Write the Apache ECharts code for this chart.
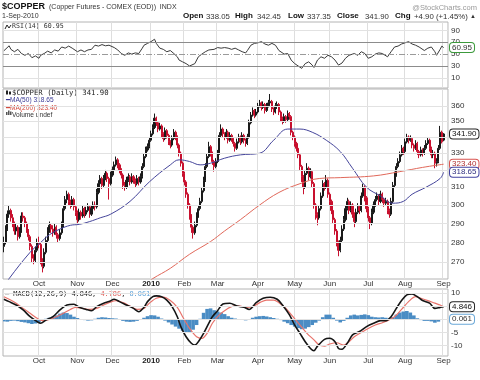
<!DOCTYPE html>
<html><head><meta charset="utf-8">
<script src="https://cdn.jsdelivr.net/npm/echarts@6/dist/echarts.min.js"></script>
<style>html,body{margin:0;padding:0;background:#fff}#c{width:480px;height:380px}</style>
</head><body><div id="c"></div>
<script>
// ---------- calendar ----------
const holidays = ['2009-09-07','2009-11-26','2009-12-25','2010-01-01','2010-01-18','2010-02-15','2010-04-02','2010-05-31','2010-07-05'];
const firstDay = '2009-09-02', lastDay = '2010-09-03';
const monthLabels = ['2010','Feb','Mar','Apr','May','Jun','Jul','Aug','Sep','Oct','Nov','Dec'];

// ---------- daily OHLC ----------
const opens = [278,280,287,295,297,293,290,286,288,283,286,294,293,290,286,283,278,272,271,276,
280,279,271,268,275,281,286,289,287,285,288,284,282,285,289,298,303,306,302,300,
303,299,296,292,296,294,298,295,297,299,295,298,300,299,307,312,315,311,315,318,
315,312,317,320,323,326,323,320,317,311,310,314,316,313,316,314,312,315,313,316,
322,328,332,334,338,342,346,352,349,345,347,342,339,344,341,337,335,339,343,340,
335,330,324,318,313,306,300,294,288,285,289,294,298,302,308,314,322,328,334,330,
325,322,325,330,341,345,342,340,343,338,341,339,336,333,337,340,337,341,338,336,
340,349,354,357,354,356,360,362,359,361,357,360,362,363,358,356,360,361,356,352,
350,353,351,355,353,343,340,336,333,329,322,316,310,318,321,316,319,312,300,295,
293,298,305,312,310,314,306,302,297,292,286,280,276,281,287,292,298,302,297,300,
295,291,296,299,297,305,310,304,298,293,290,296,300,303,305,302,306,303,301,302,
297,295,302,311,317,322,325,329,333,331,337,340,338,339,335,333,336,331,329,332,
330,333,336,338,333,329,330,324,325,333,343,338.05];
const closes = [280,287,295,297,293,290,286,288,283,286,294,293,290,286,283,278,272,271,276,280,
279,271,268,275,281,286,289,287,285,288,284,282,285,289,298,303,306,302,300,303,
299,296,292,296,294,298,295,297,299,295,298,300,299,307,312,315,311,315,318,315,
312,317,320,323,326,323,320,317,311,310,314,316,313,316,314,312,315,313,316,322,
328,332,334,338,342,346,352,349,345,347,342,339,344,341,337,335,339,343,340,335,
330,324,318,313,306,300,294,288,285,289,294,298,302,308,314,322,328,334,330,325,
322,325,330,341,345,342,340,343,338,341,339,336,333,337,340,337,341,338,336,340,
349,354,357,354,356,360,362,359,361,357,360,362,363,358,356,360,361,356,352,350,
353,351,355,353,343,340,336,333,329,322,316,310,318,321,316,319,312,300,295,293,
298,305,312,310,314,306,302,297,292,286,280,276,281,287,292,298,302,297,300,295,
291,296,299,297,305,310,304,298,293,290,296,300,303,305,302,306,303,301,302,297,
295,302,311,317,322,325,329,333,331,337,340,338,339,335,333,336,331,329,332,330,
333,336,338,333,329,330,324,325,333,343,337,341.9];
const lows = [275,279,286,293,291,288,284,284,281,282,285,291,288,285,281,276,270,269,270,275,
277,269,265,267,274,280,285,285,283,284,282,280,281,284,288,297,301,300,298,299,
297,294,290,291,292,293,293,294,296,293,294,297,297,298,306,311,309,310,314,313,
303,311,316,319,322,321,318,315,309,308,309,313,311,312,312,310,311,311,312,315,
321,327,331,333,337,341,345,347,343,344,340,337,338,339,335,333,334,338,338,333,
328,322,316,311,304,298,292,285,282,284,288,293,297,301,307,313,321,327,328,323,
319,321,324,329,340,340,338,339,336,337,337,334,331,332,336,335,336,336,334,335,
339,348,353,352,353,355,359,357,358,355,356,359,360,356,354,355,358,354,350,348,
349,349,350,351,341,338,334,331,327,320,313,306,309,317,314,315,310,298,292,289,
292,297,304,308,309,304,300,295,290,284,278,273,275,280,286,291,297,295,296,293,
288,290,295,295,296,304,302,296,291,287,289,295,299,302,300,301,301,299,300,295,
293,294,301,310,316,321,324,328,329,330,336,336,337,333,331,332,329,327,328,328,
329,332,335,331,327,327,321,322,324,332,336,337.35];
const highs = [283,289,297,300,298,295,291,290,289,288,296,296,294,291,287,284,279,274,278,282,
283,280,272,277,283,288,291,290,289,290,289,285,287,291,300,305,308,307,303,305,
304,300,297,298,297,300,299,299,301,300,300,302,302,309,314,317,316,317,320,319,
316,319,322,325,328,327,324,321,318,313,316,318,317,318,317,315,317,316,318,324,
330,334,336,340,344,348,355,353,350,349,348,343,346,345,342,338,341,345,344,341,
336,331,325,319,314,307,301,295,289,291,296,300,304,310,316,324,330,337,335,331,
326,327,332,343,348,346,343,345,344,343,342,340,337,339,342,341,343,342,339,342,
351,356,359,358,358,362,364,363,363,362,362,364,368,364,359,362,363,362,357,353,
355,354,357,356,354,344,341,337,334,330,323,317,320,324,322,321,320,313,301,296,
300,307,314,313,317,315,307,303,298,293,287,281,283,289,294,300,304,303,302,301,
296,298,301,300,307,312,311,305,299,294,298,302,305,307,306,308,307,304,304,303,
298,304,313,319,324,327,331,335,334,339,342,341,341,340,336,338,337,332,334,333,
335,338,340,339,334,332,331,327,335,347,344,342.45];

// ---------- overlays: [trading-day index, value] ----------
const ma50Points = [[0,258],[3,262],[15,275],[21,280],[26,284],[32,287],[38,289],[43,289.5],[49,291],[55,293],[61,295],[72,302],[83,313],[95,323],[100,326],[106,325],[112,323],[118,324],[126,327],[135,329],[146,330],[154,338],[162,345],[169,345],[176,343],[184,338],[192,331],[199,321],[207,310],[215,305],[222,301],[228,302],[233,306],[241,310],[249,315],[251,318.65]];
const ma200Points = [[82,260],[85,262],[95,267],[106,274],[118,280.5],[126,286],[135,292],[146,300],[157,307],[169,312],[180,315],[192,315.5],[211,316.5],[226,319],[239,321.5],[251,323.4]];
const rsiPoints = [[0,55.6],[3,64],[4,58],[6,54],[8,58],[10,51],[12,48],[14,51],[16,44],[18,47],[20,43],[21,48],[23,51],[25,55],[27,52],[29,57],[31,55],[33,62],[35,60],[37,63.5],[39,60],[40,57],[42,54],[44,57],[46,54],[48,57],[50,58],[52,65],[54,63.5],[56,66],[58,64],[60,65],[61,66],[63,61],[65,57],[67,51],[69,48],[71,52],[73,50],[75,52],[77,51],[79,60],[80,65],[82,68],[84,71],[86,75],[87,68],[89,60],[91,58],[93,54],[95,56],[97,51],[99,45.5],[100,40],[102,37],[104,34],[106,30],[107,27.5],[109,34],[111,45.5],[113,50],[115,54],[117,57],[118,54],[120,58],[122,61],[124,60],[126,61],[128,60],[130,58],[132,60],[134,57],[136,54],[138,52],[139,56],[141,65],[143,68],[145,69],[147,71],[149,67],[151,65],[153,68],[155,65],[157,56],[158,54],[160,50],[162,51],[164,40],[166,34],[168,30],[170,26],[172,34],[174,37],[176,31.5],[177,27.5],[179,40],[181,45.5],[183,43],[185,48],[187,45.5],[189,40],[191,31.5],[193,35],[195,43],[197,48],[198,45.5],[200,51],[202,48],[204,54],[206,51],[208,43],[210,45.5],[212,50],[214,52],[216,51],[217,50],[219,45.5],[221,54],[223,62],[225,63.5],[227,67],[229,69],[231,71],[233,67],[235,65],[237,62],[238,60],[240,56],[242,60],[244,62],[246,54],[247,48],[249,58],[250,63.5],[251,60.95]];
const macdPoints = [[0,7.7],[3,6.8],[7,5.5],[11,3.6],[15,1.0],[19,-0.9],[21,-1.5],[24,-0.3],[28,1.0],[32,3.6],[36,5.5],[40,5.8],[43,4.6],[47,3.8],[50,3.3],[53,4.9],[57,6.2],[60,6.8],[63,7.7],[66,6.8],[70,5.5],[74,4.2],[77,2.9],[80,4.6],[82,6.8],[85,8.7],[87,9.0],[90,8.7],[93,7.4],[96,4.9],[99,1.0],[101,-2.8],[104,-6.7],[107,-9.2],[109,-9.9],[111,-8.6],[114,-5.4],[117,-1.5],[119,1.0],[122,3.3],[125,5.9],[129,6.2],[133,5.1],[137,4.6],[140,3.8],[144,6.4],[148,8.1],[152,8.5],[156,7.7],[159,5.5],[163,1.7],[166,-2.2],[169,-5.4],[172,-8.6],[175,-11.2],[177,-12.1],[179,-10.3],[183,-7.7],[186,-7.3],[189,-8.6],[191,-11.2],[193,-11.5],[196,-9.2],[199,-6.0],[203,-4.7],[207,-2.8],[211,-1.5],[215,-0.5],[218,-0.5],[221,1.0],[224,4.2],[227,7.2],[230,9.4],[233,9.7],[236,8.7],[239,7.2],[243,6.2],[246,4.2],[249,4.6],[251,4.846]];
const signalPoints = [[0,8.7],[3,7.7],[7,6.2],[11,4.2],[15,2.3],[19,0.4],[22,-0.5],[26,0],[30,1.0],[34,2.3],[38,3.8],[41,4.6],[45,4.2],[49,3.8],[53,4.2],[57,5.5],[60,6.4],[64,7.2],[68,6.4],[72,5.1],[76,3.8],[80,4.2],[83,6.2],[87,8.1],[91,8.5],[95,7.2],[99,4.6],[102,1.0],[106,-3.5],[110,-6.7],[113,-7.3],[116,-5.4],[119,-1.5],[123,1.7],[127,3.8],[131,5.1],[135,5.1],[138,4.6],[142,4.9],[146,6.4],[150,7.4],[154,7.4],[157,6.4],[161,4.2],[165,1.0],[169,-2.2],[173,-5.4],[177,-7.9],[180,-9.9],[183,-10.3],[186,-9.5],[190,-9.0],[194,-9.9],[197,-8.6],[200,-6.7],[204,-5.1],[208,-3.5],[212,-2.2],[216,-1.3],[219,-0.5],[223,1.0],[227,3.8],[231,6.8],[235,8.7],[238,8.1],[242,7.2],[246,6.2],[249,5.5],[251,4.786]];
const histPoints = [[0,-0.8],[2,-0.9],[4,-0.6],[6,-0.5],[8,-0.7],[10,-1.0],[12,-1.2],[14,-1.5],[16,-1.8],[18,-1.6],[20,-1.2],[22,-0.6],[24,0.2],[26,0.6],[28,1.0],[30,1.5],[32,2.2],[34,2.6],[36,2.4],[38,1.8],[40,1.0],[42,0.5],[44,0.1],[46,-0.3],[48,-0.5],[50,-0.4],[52,0.2],[54,0.6],[56,0.8],[58,0.7],[60,0.5],[62,0.4],[64,0.3],[66,-0.2],[68,-0.6],[70,-0.9],[72,-1.0],[74,-0.9],[76,-0.6],[78,0.0],[80,0.6],[82,1.2],[84,1.6],[86,1.5],[88,1.0],[90,0.3],[92,-0.5],[94,-1.2],[96,-2.0],[98,-2.8],[100,-3.6],[102,-4.4],[104,-5.0],[106,-5.2],[108,-4.0],[110,-2.2],[112,0.2],[114,2.5],[116,4.0],[118,4.2],[120,3.5],[122,3.0],[124,2.6],[126,2.0],[128,1.2],[130,0.6],[132,0.3],[134,0.1],[136,-0.2],[138,-0.4],[140,0.1],[142,0.6],[144,1.0],[146,1.2],[148,1.3],[150,1.1],[152,0.8],[154,0.5],[156,0.2],[158,-0.3],[160,-0.9],[162,-1.5],[164,-2.2],[166,-2.8],[168,-3.4],[170,-3.8],[172,-3.6],[174,-3.0],[176,-2.2],[178,-1.3],[180,-0.5],[182,0.8],[184,1.8],[186,1.8],[188,0.6],[190,-0.5],[192,-1.2],[194,-0.6],[196,0.6],[198,1.5],[200,1.8],[202,1.5],[204,1.7],[206,1.9],[208,1.6],[210,1.0],[212,0.8],[214,0.7],[216,0.8],[218,0.6],[220,0.3],[222,0.8],[224,1.8],[226,2.6],[228,3.0],[230,3.2],[232,2.6],[234,1.5],[236,0.4],[238,-0.3],[240,-0.6],[242,-0.6],[244,-0.8],[246,-1.3],[248,-0.9],[250,-0.2],[251,0.061]];

// ---------- tick labels ----------
const rsiTicks = [10,30,50,70,90];
const priceTicks = [270,280,290,300,310,320,330,340,350,360];
const macdGrid = [10,5,0,-5,-10];
const macdTicks = [10,-5,-10];

// ---------- header quote ----------
const quoteLabels = ['Open','High','Low','Close','Chg'];
const quoteValues = ['338.05','342.45','337.35','341.90','+4.90 (+1.45%)'];

// ---------- build ----------
const categories = [];
for (let d = new Date(firstDay + 'T00:00:00Z'); d <= new Date(lastDay + 'T00:00:00Z'); d.setUTCDate(d.getUTCDate() + 1)) {
  const wd = d.getUTCDay(); const s = d.toISOString().slice(0, 10);
  if (wd === 0 || wd === 6 || holidays.includes(s)) continue;
  categories.push(s);
}
const monthStart = new Set();
for (let i = 1; i < categories.length; i++) if (categories[i].slice(5, 7) !== categories[i - 1].slice(5, 7)) monthStart.add(i);
const isMonth = (i) => monthStart.has(i);
const candles = closes.map((c, i) => [opens[i], c, lows[i], highs[i]]);

const GL = 3, GR = 32;
const grids = [
  {left: GL, right: GR, top: 22, height: 66},
  {left: GL, right: GR, top: 89, height: 190},
  {left: GL, right: GR, top: 289, height: 67}
].map(g => Object.assign(g, {show: true, borderColor: '#b4b4b4', borderWidth: 1, backgroundColor: 'transparent'}));

const SANS = '"Liberation Sans", Arial, sans-serif';
const MONO = '"DejaVu Sans Mono", monospace';
function xAxis(gi, labels) {
  return {
    type: 'category', gridIndex: gi, data: categories, boundaryGap: true,
    axisLine: {show: false}, axisTick: {show: false},
    splitLine: {show: true, interval: (i) => isMonth(i), lineStyle: {color: '#dedede', width: 1}},
    axisLabel: {show: labels, interval: (i) => isMonth(i), margin: 1, fontSize: 8, color: '#333', fontFamily: SANS,
      formatter: (v) => { const m = +v.slice(5, 7); return m === 1 ? '{y|2010}' : monthLabels[m - 1]; },
      rich: {y: {fontWeight: 'bold', fontSize: 8, color: '#222', fontFamily: SANS}}}
  };
}
function yAxis(gi, extra) {
  return Object.assign({
    gridIndex: gi, position: 'right', scale: true,
    axisLine: {show: false}, axisTick: {show: false}, splitLine: {show: false},
  }, extra);
}
function lbl(vals) { return {customValues: vals, fontSize: 8, color: '#333', margin: 3, fontFamily: SANS}; }
function gridMark(vals, color, type) {
  return {silent: true, symbol: ['none', 'none'], animation: false, label: {show: false},
    lineStyle: {color: color, width: 1, type: type || 'solid'},
    data: vals.map(v => ({yAxis: v}))};
}
function box(v, text, border, color) {
  return {yAxis: v, lineStyle: {color: 'rgba(0,0,0,0)', width: 0},
    label: {show: true, position: 'end', formatter: text, distance: 2, fontSize: 8, fontFamily: SANS,
      color: color, backgroundColor: '#fff', borderColor: border, borderWidth: 1, borderRadius: 3, padding: [1, 2, 0, 2]}};
}
function boxMark(items) {
  return {silent: true, symbol: ['none', 'none'], animation: false, data: items};
}

// header quote positions
const quoteLabelX = [183, 235, 288, 337, 395];
const quoteValueX = [206, 257, 307, 365, 414];
const quoteGraphics = [];
quoteLabels.forEach((t, i) => {
  quoteGraphics.push({type: 'text', x: quoteLabelX[i], y: 12, style: {text: t, font: 'bold 8px ' + SANS, fill: '#111', align: 'left', verticalAlign: 'top'}});
  quoteGraphics.push({type: 'text', x: quoteValueX[i], y: 12.5, style: {text: quoteValues[i], font: '7.8px ' + SANS, fill: '#333', align: 'left', verticalAlign: 'top'}});
});
quoteGraphics.push({type: 'text', x: 470, y: 13, style: {text: '▲', font: '6px ' + SANS, fill: '#333', align: 'left', verticalAlign: 'top'}});

const option = {
  animation: false,
  backgroundColor: '#fff',
  grid: grids,
  xAxis: [xAxis(0, false), xAxis(1, true), xAxis(2, true)],
  yAxis: [
    yAxis(0, {type: 'value', min: -7, max: 104, axisLabel: lbl(rsiTicks)}),
    yAxis(1, {type: 'log', logBase: 10, min: 261.8, max: 371.4, axisLabel: lbl(priceTicks)}),
    yAxis(2, {type: 'value', min: -14.1, max: 11.65, axisLabel: lbl(macdTicks)})
  ],
  series: [
    // RSI panel
    {type: 'line', xAxisIndex: 0, yAxisIndex: 0, data: [], z: 1,
      markLine: {silent: true, symbol: ['none', 'none'], animation: false, label: {show: false},
        data: [
          {yAxis: 90, lineStyle: {color: '#e2e2e2', width: 1, type: 'solid'}},
          {yAxis: 10, lineStyle: {color: '#e2e2e2', width: 1, type: 'solid'}},
          {yAxis: 70, lineStyle: {color: '#8c8c8c', width: 1, type: 'solid'}},
          {yAxis: 30, lineStyle: {color: '#8c8c8c', width: 1, type: 'solid'}},
          {yAxis: 50, lineStyle: {color: '#9a9a9a', width: 1, type: [6, 2, 1, 2]}}
        ]}},
    {type: 'line', name: 'RSI', xAxisIndex: 0, yAxisIndex: 0, data: rsiPoints, symbol: 'none', z: 3,
      lineStyle: {color: '#3a3a3a', width: 1},
      markLine: boxMark([box(60.95, '60.95', '#3c9a3c', '#333')])},
    // Price panel
    {type: 'line', xAxisIndex: 1, yAxisIndex: 1, data: [], z: 1, markLine: gridMark(priceTicks, '#e2e2e2')},
    {type: 'candlestick', name: '$COPPER', xAxisIndex: 1, yAxisIndex: 1, data: candles, barWidth: 1.6, z: 3,
      itemStyle: {color: '#1a1a1a', color0: '#c8102e', borderColor: '#1a1a1a', borderColor0: '#c8102e', borderWidth: 1}},
    {type: 'line', name: 'MA(50)', xAxisIndex: 1, yAxisIndex: 1, data: ma50Points, symbol: 'none', smooth: 0.4, z: 4,
      lineStyle: {color: '#45459a', width: 1}},
    {type: 'line', name: 'MA(200)', xAxisIndex: 1, yAxisIndex: 1, data: ma200Points, symbol: 'none', smooth: 0.4, z: 4,
      lineStyle: {color: '#e0685a', width: 1},
      markLine: boxMark([
        box(341.9, '341.90', '#222', '#111'),
        box(323.4, '323.40', '#d9534f', '#b03030'),
        box(318.65, '318.65', '#4040a0', '#303080')
      ])},
    // MACD panel
    {type: 'line', xAxisIndex: 2, yAxisIndex: 2, data: [], z: 1, markLine: gridMark(macdGrid, '#e2e2e2')},
    {type: 'bar', name: 'Hist', xAxisIndex: 2, yAxisIndex: 2, data: histPoints, barWidth: 3.6, z: 2,
      itemStyle: {color: '#4a8cc4'}},
    {type: 'line', name: 'Signal', xAxisIndex: 2, yAxisIndex: 2, data: signalPoints, symbol: 'none', smooth: 0.3, z: 3,
      lineStyle: {color: '#e8736b', width: 1.2}},
    {type: 'line', name: 'MACD', xAxisIndex: 2, yAxisIndex: 2, data: macdPoints, symbol: 'none', smooth: 0.3, z: 4,
      lineStyle: {color: '#151515', width: 1.6},
      markLine: boxMark([
        box(4.846, '4.846', '#222', '#111'),
        box(0.061, '0.061', '#6aa8d8', '#333')
      ])}
  ],
  graphic: [
    {type: 'text', x: 2, y: 2, style: {text: '$COPPER', font: 'bold 9px ' + SANS, fill: '#111', align: 'left', verticalAlign: 'top'}},
    {type: 'text', x: 49, y: 3.5, style: {text: '(Copper Futures - COMEX (EOD))  INDX', font: '7px ' + SANS, fill: '#333', align: 'left', verticalAlign: 'top'}},
    {type: 'text', x: 477, y: 4, style: {text: '@StockCharts.com', font: '7.5px ' + SANS, fill: '#9a9a9a', align: 'right', verticalAlign: 'top'}},
    {type: 'text', x: 2, y: 13, style: {text: '1-Sep-2010', font: '7px ' + SANS, fill: '#333', align: 'left', verticalAlign: 'top'}},
    ...quoteGraphics,
    // RSI legend
    {type: 'polyline', shape: {points: [[5, 29], [7, 25], [9, 28], [11, 25]]}, style: {stroke: '#222', lineWidth: 1, fill: null}},
    {type: 'text', x: 12, y: 23, style: {text: 'RSI(14) 60.95', font: '6.6px ' + MONO, fill: '#333', align: 'left', verticalAlign: 'top'}},
    // Price legend
    {type: 'rect', shape: {x: 6, y: 90.5, width: 2, height: 4}, style: {fill: '#222'}},
    {type: 'rect', shape: {x: 9, y: 91.5, width: 2, height: 3}, style: {fill: '#222'}},
    {type: 'text', x: 12, y: 89.5, style: {text: '$COPPER (Daily) 341.90', font: '7.3px ' + MONO, fill: '#222', align: 'left', verticalAlign: 'top'}},
    {type: 'text', x: 6, y: 97, style: {text: '━MA(50) 318.65', font: '6.6px ' + SANS, fill: '#3a3a95', align: 'left', verticalAlign: 'top'}},
    {type: 'text', x: 6, y: 104.3, style: {text: '━MA(200) 323.40', font: '6.6px ' + SANS, fill: '#d24a3e', align: 'left', verticalAlign: 'top'}},
    {type: 'rect', shape: {x: 6, y: 112, width: 1.5, height: 3}, style: {fill: '#555'}},
    {type: 'rect', shape: {x: 8, y: 110.5, width: 1.5, height: 4.5}, style: {fill: '#555'}},
    {type: 'rect', shape: {x: 10, y: 111.5, width: 1.5, height: 3.5}, style: {fill: '#555'}},
    {type: 'text', x: 12, y: 111.5, style: {text: 'Volume undef', font: '6.6px ' + SANS, fill: '#333', align: 'left', verticalAlign: 'top'}},
    // MACD legend
    {type: 'text', x: 5, y: 290.5, style: {
      text: '━ MACD(12,26,9) 4.846, {r|4.786}, {c|0.061}', font: '6.9px ' + MONO, fill: '#222', align: 'left', verticalAlign: 'top',
      rich: {r: {font: '6.9px ' + MONO, fill: '#e0605a'}, c: {font: '6.9px ' + MONO, fill: '#5aa0d8'}}}}
  ]
};
const chart = echarts.init(document.getElementById('c'), null, {renderer: 'canvas'});
chart.setOption(option);
</script></body></html>
